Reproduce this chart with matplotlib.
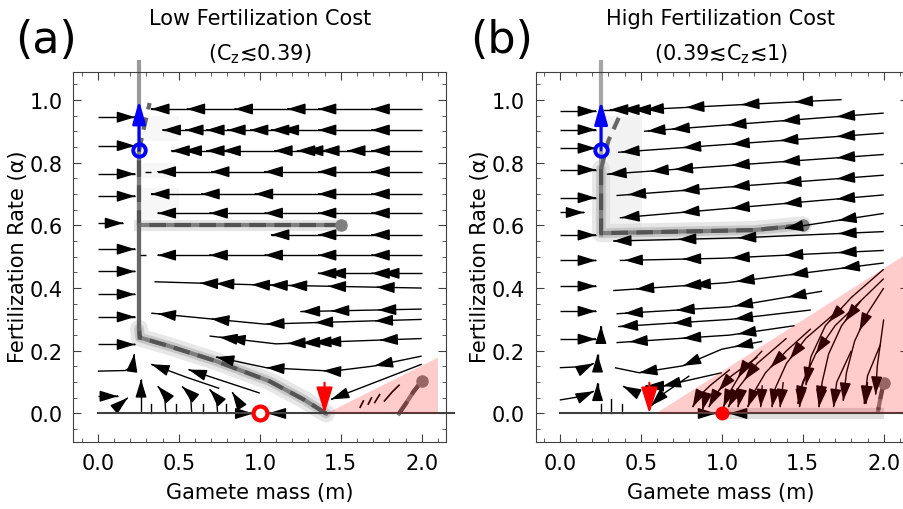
import numpy as np
import matplotlib.pyplot as plt
from matplotlib.patches import FancyArrowPatch
from matplotlib.ticker import MultipleLocator

HEAD = '-|>,head_length=0.55,head_width=0.17'

# ---------------- panel (a): low fertilization cost ----------------
# leftward flow rows: (m vertices, alpha vertices, arrowhead positions in m)
a_rows = [
    ([2.0, 0.33], [0.971, 0.971], [0.33, 0.55, 0.845, 1.17, 1.36, 1.69]),
    ([2.0, 0.40], [0.904, 0.904], [0.40, 0.54, 0.67, 0.80, 0.94, 1.07, 1.13, 1.36, 1.69]),
    ([2.0, 0.455], [0.838, 0.838], [0.455, 0.53, 0.67, 0.77, 1.09, 1.23, 1.28, 1.38, 1.54, 1.69]),
    ([2.0, 0.37], [0.771, 0.771], [0.37, 0.70, 1.03, 1.36, 1.69]),
    ([2.0, 0.33], [0.700, 0.700], [0.33, 0.64, 0.97, 1.36, 1.69]),
    ([2.0, 0.37], [0.639, 0.639], [0.37, 0.69, 1.03, 1.36, 1.69]),
    ([2.0, 1.07], [0.570, 0.570], [1.07, 1.36, 1.69]),
    ([2.0, 0.37], [0.505, 0.505], [0.37, 0.69, 1.03, 1.36, 1.69]),
    ([2.0, 1.36], [0.447, 0.447], [1.36, 1.42, 1.69, 1.75]),
    ([2.0, 1.0, 0.35], [0.40, 0.41, 0.42], [0.63, 0.73, 0.95, 1.06, 1.18, 1.42, 1.72]),
    ([2.0, 1.25], [0.333, 0.325], [1.26, 1.44, 1.73]),
    ([2.0, 1.03, 0.33], [0.30, 0.285, 0.32], [0.37, 0.70, 1.04, 1.34, 1.71]),
    ([2.0, 1.1, 0.69], [0.239, 0.222, 0.247], [0.75, 0.80, 1.17, 1.26, 1.33, 1.39, 1.74]),
    ([2.0, 1.70, 1.45, 1.04, 0.73], [0.183, 0.151, 0.135, 0.146, 0.18], [0.73, 1.04, 1.39, 1.71]),
    ([2.0, 1.44], [0.157, 0.045], [1.44]),
    ([0.75, 0.55, 0.33], [0.08, 0.115, 0.157], [0.33]),
    ([1.0, 0.56], [0.065, 0.14], [0.56]),
]
a_dashes = [([0.33, 0.29], [0.771, 0.771]), ([0.30, 0.26], [0.505, 0.505])]

# rightward rows left of the attractor
a_left_alpha = [0.945, 0.854, 0.764, 0.693, 0.607, 0.524, 0.453, 0.380, 0.308, 0.220]
a_left_end = [0.23, 0.23, 0.23, 0.23, 0.156, 0.23, 0.23, 0.23, 0.23, 0.23]

# short curved arrows ending with a head
a_curves = [
    ([0.0, 0.17, 0.215, 0.226], [0.135, 0.137, 0.15, 0.19]),
    ([0.0, 0.124], [0.055, 0.055]),
    ([0.10, 0.185], [0.013, 0.05]),
    ([0.267, 0.267], [0.0, 0.109]),
    ([0.42, 0.415, 0.40, 0.37], [0.0, 0.04, 0.07, 0.087]),
    ([0.58, 0.575, 0.56, 0.52], [0.0, 0.04, 0.068, 0.086]),
    ([0.74, 0.735, 0.72, 0.69], [0.0, 0.035, 0.06, 0.077]),
    ([0.87, 0.865, 0.85, 0.83], [0.0, 0.03, 0.052, 0.068]),
    ([0.90, 0.96], [0.0, 0.0]),
    ([1.12, 1.05], [0.0, 0.0]),
]
a_ticks = [0.33, 0.48, 0.65, 0.79]
a_pink_bits = [([1.62, 1.64], [0.02, 0.04]), ([1.67, 1.69], [0.03, 0.05]),
               ([1.71, 1.74], [0.035, 0.06]), ([1.77, 1.82, 1.86], [0.04, 0.07, 0.09])]

a_pink = ([1.41, 2.10, 2.10], [0.0, 0.178, 0.0])
a_traj1 = ([1.5, 0.255, 0.255], [0.6, 0.6, 0.84])
a_traj2 = ([1.41, 1.27, 1.06, 0.73, 0.44, 0.26, 0.255], [0.0, 0.045, 0.103, 0.167, 0.215, 0.242, 0.27])
a_traj3 = ([2.0, 1.95, 1.90, 1.86], [0.103, 0.07, 0.03, 0.0])
a_tip = ([0.255, 0.28, 0.32], [0.84, 0.90, 0.99])
a_smudge = [(0.27, 0.50, 0.62, 0.72), (0.27, 0.48, 0.75, 0.80), (0.27, 0.50, 0.87, 0.95)]

# ---------------- panel (b): high fertilization cost ----------------
b_rows = [
    ([1.74, 0.51], [1.001, 0.969], [0.53, 0.78, 1.12, 1.45]),
    ([0.50, 0.265], [0.969, 0.969], [0.31, 0.38, 0.45]),
    ([2.0, 0.52], [0.958, 0.90], [0.54, 0.69, 1.04, 1.37, 1.71]),
    ([2.0, 0.36], [0.894, 0.833], [0.38, 0.76, 1.06, 1.36, 1.71]),
    ([2.0, 0.29], [0.826, 0.763], [0.30, 0.56, 0.71, 1.06, 1.37, 1.71]),
    ([2.0, 0.35], [0.76, 0.695], [0.42, 0.75, 1.06, 1.38, 1.71]),
    ([2.0, 0.37], [0.697, 0.624], [0.38, 0.75, 1.06, 1.38, 1.71]),
    ([2.0, 1.39], [0.638, 0.59], [1.39, 1.72]),
    ([2.0, 1.1, 0.33], [0.58, 0.56, 0.55], [0.33, 0.73, 1.10, 1.72]),
    ([2.0, 1.0, 0.37], [0.52, 0.495, 0.488], [0.40, 0.76, 1.06, 1.39, 1.72]),
    ([2.0, 1.03, 0.33], [0.48, 0.417, 0.392], [0.47, 0.76, 0.82, 1.09, 1.42, 1.74]),
    ([1.62, 1.05, 0.35], [0.39, 0.34, 0.318], [0.40, 0.72, 1.08, 1.41]),
    ([1.55, 1.05, 0.36], [0.33, 0.30, 0.277], [0.37, 0.70, 1.08]),
    ([1.45, 1.05, 0.35], [0.28, 0.25, 0.226], [0.43, 0.76, 1.10]),
    ([1.25, 1.0, 0.76, 0.49, 0.34], [0.23, 0.205, 0.152, 0.13, 0.146], [0.49, 0.76, 1.08]),
    ([1.0, 0.82, 0.635, 0.53], [0.13, 0.109, 0.087, 0.087], [0.53, 0.635]),
]
b_left_alpha = [0.964, 0.905, 0.846, 0.777, 0.688, 0.641, 0.569, 0.488, 0.406, 0.326, 0.237]
b_left_end = [0.223, 0.223, 0.223, 0.223, 0.223, 0.15, 0.223, 0.223, 0.223, 0.223, 0.223]
b_curves = [
    ([0.0, 0.17, 0.21], [0.146, 0.15, 0.16]),
    ([0.0, 0.14, 0.21], [0.043, 0.055, 0.071]),
    ([0.233, 0.233], [0.07, 0.098]),
    ([0.233, 0.233], [0.16, 0.189]),
    ([0.254, 0.254], [0.25, 0.28]),
    ([0.49, 0.39], [0.061, 0.087]),
    ([0.80, 0.635, 0.563], [0.12, 0.061, 0.024]),
    ([0.90, 0.965], [0.0, 0.0]),
    ([1.12, 1.045], [0.0, 0.0]),
]
b_ticks = [(0.254, 0.03), (0.316, 0.045), (0.384, 0.03)]
# flow inside the shaded region bends down towards alpha = 0
b_pink_curves = [
    ([2.0, 1.86, 1.74, 1.66, 1.62, 1.60], [0.43, 0.36, 0.28, 0.19, 0.10, 0.03], [1.76]),
    ([2.0, 1.90, 1.82, 1.77, 1.75], [0.40, 0.32, 0.23, 0.13, 0.04], [1.85]),
    ([2.0, 1.80, 1.64, 1.55, 1.52], [0.46, 0.37, 0.28, 0.18, 0.09], [1.66]),
    ([1.86, 1.70, 1.58, 1.50, 1.47], [0.36, 0.28, 0.19, 0.10, 0.03], [1.58]),
    ([1.70, 1.52, 1.40, 1.33, 1.31], [0.32, 0.24, 0.16, 0.08, 0.02], [1.42]),
    ([1.55, 1.40, 1.27, 1.19, 1.16], [0.27, 0.20, 0.13, 0.06, 0.02], [1.30]),
    ([1.40, 1.22, 1.10, 1.04], [0.24, 0.16, 0.08, 0.02], [1.14]),
    ([1.25, 1.12, 1.04, 1.01], [0.20, 0.13, 0.06, 0.02], [1.10]),
    ([1.22, 1.06, 0.96, 0.92], [0.18, 0.12, 0.06, 0.02], [0.98]),
    ([1.05, 0.93, 0.85, 0.82], [0.14, 0.09, 0.05, 0.02], []),
    ([2.0, 1.96, 1.95], [0.30, 0.15, 0.06], []),
    ([1.98, 1.90, 1.88], [0.22, 0.12, 0.03], []),
    ([1.80, 1.71, 1.69], [0.20, 0.10, 0.02], []),
    ([1.55, 1.49, 1.48], [0.16, 0.08, 0.02], []),
    ([1.38, 1.36], [0.10, 0.02], []),
    ([1.25, 1.24], [0.09, 0.02], []),
    ([1.12, 1.10], [0.07, 0.02], []),
    ([0.90, 0.88], [0.05, 0.01], []),
    ([1.62, 1.60], [0.09, 0.02], []),
    ([1.90, 1.89], [0.10, 0.03], []),
]
b_pink = ([0.594, 2.2, 2.2], [0.0, 0.528, 0.0])
b_traj1 = ([1.5, 1.2, 0.255, 0.255], [0.6, 0.585, 0.575, 0.78])
b_traj2 = ([2.0, 1.98, 1.966], [0.098, 0.05, 0.011])
b_floor = ([1.966, 1.0], [0.0, 0.0])
b_tip = ([0.255, 0.30, 0.37], [0.78, 0.87, 0.95])

fixed_m = [0.255, 0.255]
fixed_alpha = [0.84, 0.84]
vertex_m = [1.0, 1.0]
arrow_up = [(0.84, 0.998), (0.84, 0.996)]
arrow_down = [(1.40, 0.098), (0.553, 0.098)]

titles = ['Low Fertilization Cost', 'High Fertilization Cost']
subtitles = ['(C$_\\mathrm{z}$\u22720.39)', '(0.39\u2272C$_\\mathrm{z}$\u22721)']
letters = ['(a)', '(b)']


def head(ax, tail, tip, color='k', lw=1.0, z=2, style=HEAD, scale=20):
    ax.add_patch(FancyArrowPatch(tail, tip, arrowstyle=style, mutation_scale=scale,
                                 color=color, lw=lw, zorder=z, shrinkA=0, shrinkB=0))


def stream(ax, ms, als, heads=(), end=False, z=2):
    ms = np.asarray(ms, float)
    als = np.asarray(als, float)
    ax.plot(ms, als, color='k', lw=1.0, zorder=z, solid_capstyle='butt')
    tips = []
    for h in heads:
        for i in range(len(ms) - 1):
            lo, hi = sorted((ms[i], ms[i + 1]))
            if lo <= h <= hi and ms[i] != ms[i + 1]:
                t = (h - ms[i]) / (ms[i + 1] - ms[i])
                tips.append((i, h, als[i] + t * (als[i + 1] - als[i])))
                break
    if end:
        tips.append((len(ms) - 2, ms[-1], als[-1]))
    for i, x, y in tips:
        dx, dy = ms[i + 1] - ms[i], als[i + 1] - als[i]
        n = np.hypot(dx, dy)
        head(ax, (x - 0.005 * dx / n, y - 0.005 * dy / n), (x, y), z=z)


def trajectory(ax, ms, als, band=True):
    if band:
        ax.plot(ms, als, color='0.82', lw=13, alpha=0.5, zorder=1.2, solid_capstyle='round')
        ax.plot(ms, als, color='0.7', lw=7, alpha=0.6, zorder=1.3, solid_capstyle='round')
    ax.plot(ms, als, color='0.5', lw=3, zorder=1.4)
    ax.plot(ms, als, color='0.33', lw=3, dashes=(4, 2), zorder=1.5)


def frame(ax):
    ax.set_xlim(-0.15, 2.15)
    ax.set_ylim(-0.09, 1.09)
    ax.xaxis.set_major_locator(MultipleLocator(0.5))
    ax.xaxis.set_minor_locator(MultipleLocator(0.1))
    ax.yaxis.set_major_locator(MultipleLocator(0.2))
    ax.yaxis.set_minor_locator(MultipleLocator(0.05))
    ax.xaxis.set_major_formatter('{x:.1f}')
    ax.yaxis.set_major_formatter('{x:.1f}')
    ax.tick_params(which='both', direction='in', top=True, right=True, color='0.25')
    ax.tick_params(which='major', length=6, labelsize=15, pad=8)
    ax.tick_params(which='minor', length=3)
    for s in ax.spines.values():
        s.set_color('0.25')


fig = plt.figure(figsize=(9.04, 5.10), dpi=100)
axa = fig.add_axes([73.5 / 904, 67.3 / 510, 372.5 / 904, 370 / 510])
axb = fig.add_axes([535.5 / 904, 67.3 / 510, 372.5 / 904, 370 / 510])

# ----- panel (a)
ax = axa
for x0, x1, y0, y1 in a_smudge:
    ax.fill_between([x0, x1], y0, y1, color='0.9', alpha=0.3, lw=0, zorder=1)
for ms, als, hs in a_rows:
    stream(ax, ms, als, hs)
for ms, als in a_dashes:
    stream(ax, ms, als)
for a, e in zip(a_left_alpha, a_left_end):
    stream(ax, [0.0, e], [a, a], end=True)
for ms, als in a_curves:
    stream(ax, ms, als, end=True)
for m in a_ticks:
    ax.plot([m, m], [0.0, 0.029], color='k', lw=1.0, zorder=2)
for ms, als in a_pink_bits:
    ax.plot(ms, als, color='k', lw=1.2, zorder=2)
ax.plot([0.0, 2.2], [0.0, 0.0], color='0.25', lw=1.5, zorder=2, clip_on=False)

ax.plot([0.255, 0.255], [0.24, 1.12], color='0.6', lw=3, zorder=1.4, clip_on=False)
trajectory(ax, *a_traj1, band=False)
ax.plot(a_traj1[0][:2], a_traj1[1][:2], color='0.8', lw=8, alpha=0.5, zorder=1.2)
trajectory(ax, *a_traj2)
ax.plot([0.255, 0.255], [0.27, 0.6], color='0.4', lw=3, zorder=1.5)
ax.plot(*a_tip, color='0.4', lw=3, dashes=(3, 2), zorder=1.5)
trajectory(ax, *a_traj3, band=False)
ax.plot(a_traj1[0][0], a_traj1[1][0], 'o', color='0.5', ms=8, zorder=1.6)
ax.plot(a_traj3[0][0], a_traj3[1][0], 'o', color='0.5', ms=8, zorder=1.6)
ax.fill(*a_pink, color='red', alpha=0.2, lw=0, zorder=3)

head(ax, (fixed_m[0], arrow_up[0][0]), (fixed_m[0], arrow_up[0][1]), color='blue', lw=2, z=5,
     style='-|>,head_length=0.7,head_width=0.2', scale=20)
ax.plot(fixed_m[0], fixed_alpha[0], 'o', ms=9, mfc='none', mec='blue', mew=2.8, zorder=6)
head(ax, (arrow_down[0][0], arrow_down[0][1]), (arrow_down[0][0], 0.0), color='red', lw=1.6, z=5,
     style='-|>,head_length=0.8,head_width=0.25', scale=20)
ax.plot(vertex_m[0], 0.0, 'o', ms=10, mfc='white', mec='red', mew=3, zorder=6)

# ----- panel (b)
ax = axb
ax.fill_between([0.26, 0.51], 0.57, 0.95, color='0.9', alpha=0.5, lw=0, zorder=1)
for ms, als, hs in b_rows:
    stream(ax, ms, als, hs)
for a, e in zip(b_left_alpha, b_left_end):
    stream(ax, [0.0, e], [a, a], end=True)
for ms, als in b_curves:
    stream(ax, ms, als, end=True)
for m, top in b_ticks:
    ax.plot([m, m], [0.0, top], color='k', lw=1.0, zorder=2)
for ms, als, hs in b_pink_curves:
    stream(ax, ms, als, hs, end=True)
ax.plot([0.0, 2.2], [0.0, 0.0], color='0.25', lw=1.5, zorder=2, clip_on=False)
ax.plot(*b_floor, color='0.75', lw=8, alpha=0.5, zorder=1.2)

ax.plot([0.255, 0.255], [0.57, 1.12], color='0.65', lw=3, zorder=1.4, clip_on=False)
trajectory(ax, *b_traj1)
ax.plot(*b_tip, color='0.4', lw=3, dashes=(3, 2), zorder=1.5)
trajectory(ax, *b_traj2, band=False)
ax.plot(b_traj1[0][0], b_traj1[1][0], 'o', color='0.5', ms=8, zorder=1.6)
ax.plot(b_traj2[0][0], b_traj2[1][0], 'o', color='0.5', ms=8, zorder=1.6)
ax.fill(*b_pink, color='red', alpha=0.2, lw=0, zorder=3)

head(ax, (fixed_m[1], arrow_up[1][0]), (fixed_m[1], arrow_up[1][1]), color='blue', lw=2, z=5,
     style='-|>,head_length=0.7,head_width=0.2', scale=20)
ax.plot(fixed_m[1], fixed_alpha[1], 'o', ms=9, mfc='none', mec='blue', mew=2.8, zorder=6)
head(ax, (arrow_down[1][0], arrow_down[1][1]), (arrow_down[1][0], 0.0), color='red', lw=1.6, z=5,
     style='-|>,head_length=0.8,head_width=0.25', scale=20)
ax.plot(vertex_m[1], 0.0, 'o', ms=9, color='red', zorder=6)

for ax, cx, lx, ylx, t, st, lt in zip([axa, axb], [260, 721], [15, 470], [18, 480],
                                      titles, subtitles, letters):
    frame(ax)
    fig.text(cx / 904, 1 - 25 / 510, t, fontsize=15, ha='center', va='baseline')
    fig.text(cx / 904, 1 - 60 / 510, st, fontsize=15, ha='center', va='baseline')
    fig.text(lx / 904, 1 - 53 / 510, lt, fontsize=32, ha='left', va='baseline')
    fig.text(ylx / 904, 1 - 257 / 510, 'Fertilization Rate (α)', fontsize=15,
             rotation=90, ha='center', va='center')
    fig.text(cx / 904, 1 - 493 / 510, 'Gamete mass (m)', fontsize=15, ha='center', va='center')

fig.savefig('out.png', dpi=100)
